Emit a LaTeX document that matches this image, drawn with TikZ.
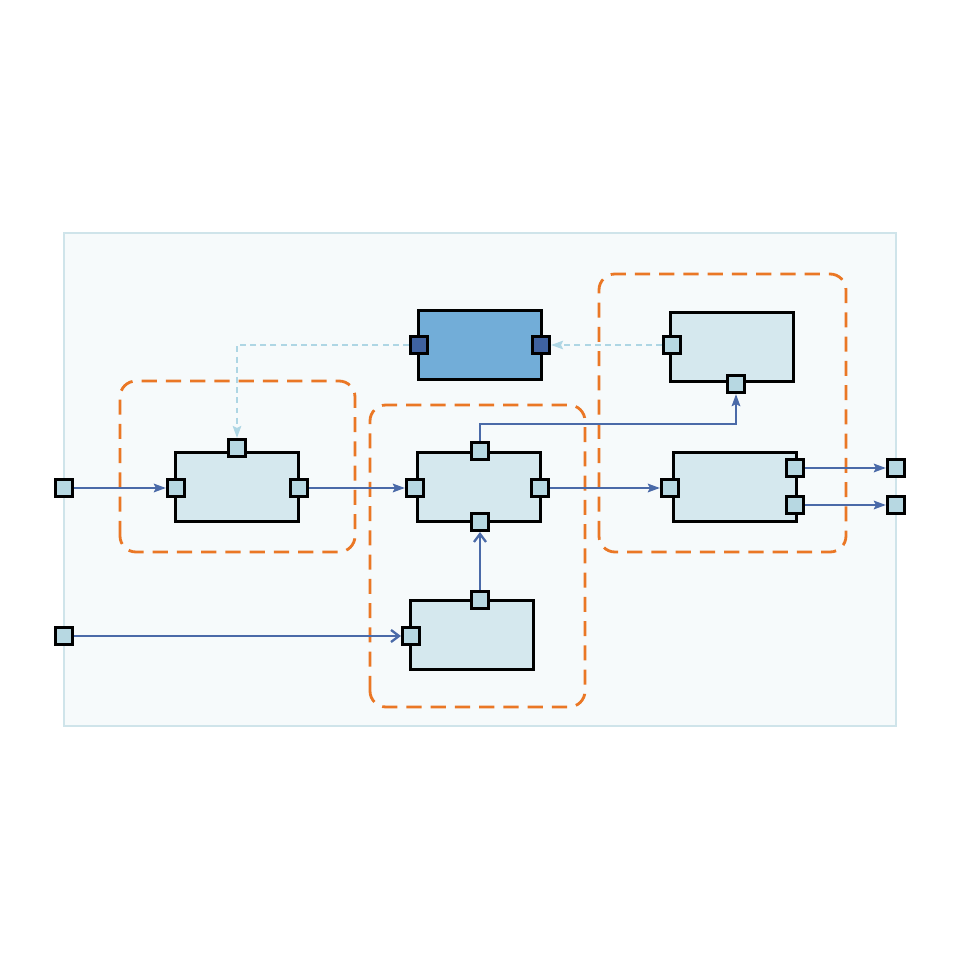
\documentclass[tikz,border=0pt]{standalone}
\usepackage{xcolor}
\usetikzlibrary{arrows.meta,positioning}
\definecolor{panelfill}{HTML}{F6FAFB}
\definecolor{paneldraw}{HTML}{CFE4EA}
\definecolor{blockfill}{HTML}{D5E8EE}
\definecolor{portfill}{HTML}{B7D8E2}
\definecolor{hostfill}{HTML}{72ADD8}
\definecolor{hostport}{HTML}{3F62A0}
\definecolor{flowblue}{HTML}{4A6AA8}
\definecolor{linkblue}{HTML}{AED6E4}
\definecolor{grouporange}{HTML}{EA7725}
\tikzset{
  block/.style={
    shape = rectangle,
    draw,
    fill = blockfill,
    line width = 0.8pt,
    minimum width = 1.23cm,
    minimum height = 0.69cm,
    inner sep = 0pt
  },
  port/.style={
    shape = rectangle,
    draw,
    fill = portfill,
    line width = 0.9pt,
    minimum size = 0.17cm,
    inner sep = 0pt
  },
  group/.style={
    draw = grouporange,
    line width = 0.8pt,
    rounded corners = 0.16cm,
    dash pattern = on 4.3pt off 2.6pt
  },
  flow/.style={
    draw = flowblue,
    line width = 0.65pt,
    -{Stealth[length=1.2mm,width=0.85mm,inset=0.2mm]}
  },
  openflow/.style={
    draw = flowblue,
    line width = 0.65pt,
    -{Straight Barb[length=0.8mm,width=1.2mm]}
  },
  link/.style={
    draw = linkblue,
    line width = 0.6pt,
    dash pattern = on 1.7pt off 1.2pt,
    -{Stealth[length=1.2mm,width=0.85mm,inset=0.2mm]}
  }
}

\begin{document}
\begin{tikzpicture}
    \useasboundingbox (0,0) rectangle (9.6,9.6);
    % panel
    \draw[fill=panelfill, draw=paneldraw, line width=0.7pt] (0.64,2.34) rectangle (8.96,7.27);
    % groups
    \draw[group] (1.20,4.08) rectangle (3.55,5.79);
    \draw[group] (3.70,2.53) rectangle (5.85,5.55);
    \draw[group] (5.99,4.08) rectangle (8.46,6.86);
    % blocks
    \node[block] (host) at (4.80,6.15) [fill=hostfill] {};
    \node[block] (src) at (2.37,4.73) {};
    \node[block] (mid) at (4.79,4.73) {};
    \node[block] (low) at (4.72,3.25) {};
    \node[block] (cfg) at (7.32,6.13) {};
    \node[block] (out) at (7.35,4.73) {};
    % ports
    \node[port, fill=hostport] (hostL) at (4.19,6.15) {};
    \node[port, fill=hostport] (hostR) at (5.41,6.15) {};
    \node[port] (srcT) at (2.37,5.12) {};
    \node[port] (srcL) at (1.76,4.72) {};
    \node[port] (srcR) at (2.99,4.72) {};
    \node[port] (midT) at (4.80,5.09) {};
    \node[port] (midL) at (4.15,4.72) {};
    \node[port] (midR) at (5.40,4.72) {};
    \node[port] (midB) at (4.80,4.38) {};
    \node[port] (lowT) at (4.80,3.60) {};
    \node[port] (lowL) at (4.11,3.24) {};
    \node[port] (cfgL) at (6.72,6.15) {};
    \node[port] (cfgB) at (7.36,5.76) {};
    \node[port] (outL) at (6.70,4.72) {};
    \node[port] (outA) at (7.95,4.92) {};
    \node[port] (outB) at (7.95,4.55) {};
    \node[port] (inA) at (0.64,4.72) {};
    \node[port] (inB) at (0.64,3.24) {};
    \node[port] (extA) at (8.96,4.92) {};
    \node[port] (extB) at (8.96,4.55) {};
    % connectors
    \coordinate (bend) at (4.80,5.36);
    \draw[flow] (inA) -- (srcL);
    \draw[flow] (srcR) -- (midL);
    \draw[flow] (midR) -- (outL);
    \draw[flow] (midT) -- (bend) -| (cfgB);
    \draw[openflow] (lowT) -- (midB);
    \draw[openflow] (inB) -- (lowL);
    \draw[flow] (outA) -- (extA);
    \draw[flow] (outB) -- (extB);
    \draw[link] (cfgL) -- (hostR);
    \draw[link] (hostL) -| (srcT);
\end{tikzpicture}
\end{document}
